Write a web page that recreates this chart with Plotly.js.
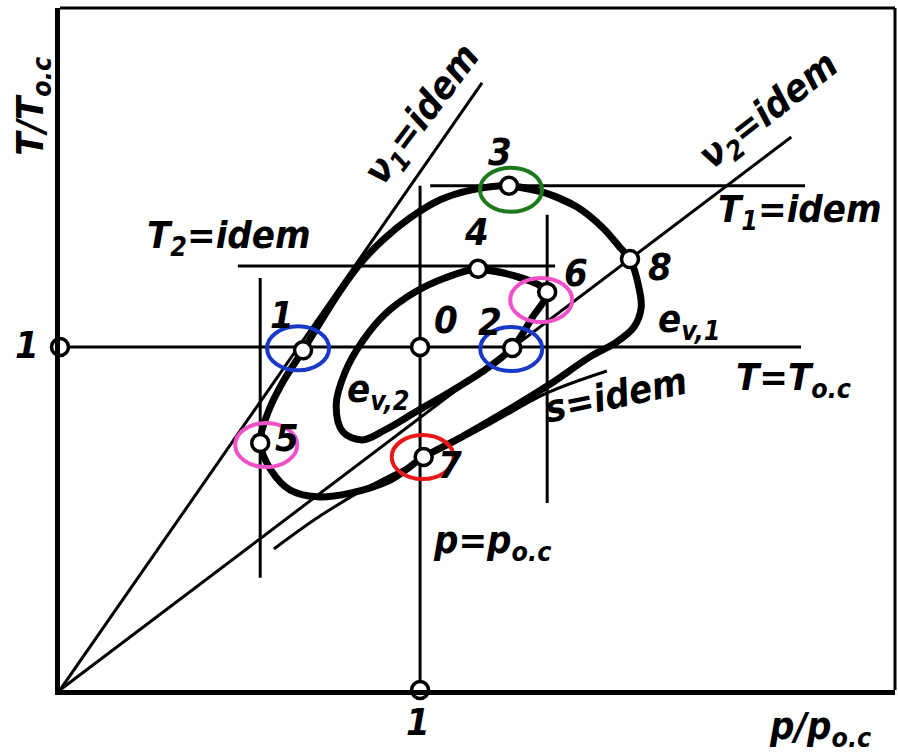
<!DOCTYPE html>
<html>
<head>
<meta charset="utf-8">
<script src="https://cdn.plot.ly/plotly-3.0.1.min.js"></script>
<style>
  html, body { margin: 0; padding: 0; background: #fff; }
  #chart { width: 898px; height: 752px; }
</style>
</head>
<body>
<div id="chart"></div>
<script>
// Axes: reduced pressure p/p_o.c (x) and reduced temperature T/T_o.c (y)
const xRange = [0, 2.319];
const yRange = [0, 1.988];

// Outer cycle e_v,1 (clockwise, starting at state 3)
const outerP = [1.247, 1.347, 1.436, 1.508, 1.556, 1.583, 1.608, 1.614, 1.594, 1.547, 1.472,
                1.353, 1.222, 1.111, 1.01, 0.917, 0.806, 0.714, 0.639, 0.586, 0.556, 0.578,
                0.619, 0.675, 0.722, 0.778, 0.833, 0.897, 0.972, 1.056, 1.144];
const outerT = [1.47, 1.449, 1.408, 1.347, 1.289, 1.256, 1.172, 1.114, 1.058, 1.015, 0.971,
                0.886, 0.802, 0.735, 0.679, 0.612, 0.574, 0.563, 0.583, 0.641, 0.72, 0.81,
                0.898, 0.99, 1.07, 1.163, 1.242, 1.312, 1.376, 1.429, 1.458];

// Inner cycle e_v,2 (clockwise, starting at state 4)
const innerP = [1.161, 1.242, 1.311, 1.353, 1.311, 1.256, 1.172, 1.083, 0.992, 0.903, 0.839,
                0.786, 0.767, 0.792, 0.839, 0.903, 0.986, 1.069];
const innerT = [1.228, 1.213, 1.19, 1.16, 1.085, 0.997, 0.927, 0.869, 0.813, 0.758, 0.729,
                0.752, 0.831, 0.927, 1.015, 1.096, 1.16, 1.201];

// Isentrope s = idem
const isentropeP = [0.594, 0.722, 0.861, 1.019, 1.194, 1.353, 1.519];
const isentropeT = [0.411, 0.507, 0.595, 0.679, 0.775, 0.866, 0.930];

// Straight reference lines: [p0, p1], [T0, T1]
const lineTref  = { p: [0, 2.058],     T: [1, 1] };        // T = T_o.c
const linePref  = { p: [1, 1],         T: [0, 1.47] };     // p = p_o.c
const lineT1    = { p: [1.028, 2.069], T: [1.47, 1.47] };  // T1 = idem
const lineT2    = { p: [0.494, 1.375], T: [1.236, 1.236] };// T2 = idem
const lineP5    = { p: [0.556, 0.556], T: [0.327, 1.201] };// isobar through 5
const lineP6    = { p: [1.353, 1.353], T: [0.545, 1.385] };// isobar through 6
const lineV1    = { p: [0, 1.172],     T: [0, 1.770] };    // v1 = idem
const lineV2    = { p: [0, 2.031],     T: [0, 1.612] };    // v2 = idem

// State points 0..8
const stateNames = ['0', '1', '2', '3', '4', '5', '6', '7', '8'];
const stateP = [1.0, 0.675, 1.256, 1.247, 1.161, 0.556, 1.353, 1.01, 1.583];
const stateT = [1.0, 0.99, 0.997, 1.47, 1.228, 0.72, 1.16, 0.679, 1.256];
// where each state number is written
const stateLabelP = [1.072, 0.617, 1.194, 1.222, 1.158, 0.631, 1.433, 1.083, 1.667];
const stateLabelT = [1.079, 1.093, 1.073, 1.569, 1.335, 0.735, 1.216, 0.656, 1.233];

// Unit marks on the axes
const unitP = [0, 1];
const unitT = [1, 0];

// Highlighted states, ring colours and ring offsets (px right, px down)
const ringStates = ['3', '1', '2', '6', '5', '7'];
const ringColors = ['#1c7a1c', '#1838c8', '#1838c8', '#f050c8', '#f050c8', '#e81818'];
const ringShiftX = [2, -5, -1, -6, 6, -1];
const ringShiftY = [4, -2, 1, 8, 2, 0];

const FONT = "'DejaVu Sans Condensed', 'Liberation Sans Narrow', 'DejaVu Sans', sans-serif";

function closed(a) { return a.concat(a.slice(0, 3)); }

function straight(l, w) {
  return { x: l.p, y: l.T, mode: 'lines', line: { color: '#000', width: w },
           hoverinfo: 'skip', showlegend: false, cliponaxis: false };
}

const traces = [
  straight(lineV1, 3), straight(lineV2, 3),
  straight(lineTref, 3), straight(linePref, 3),
  straight(lineT1, 3), straight(lineT2, 3),
  straight(lineP5, 3), straight(lineP6, 3),
  { x: isentropeP, y: isentropeT, mode: 'lines',
    line: { color: '#000', width: 3, shape: 'spline', smoothing: 1 },
    hoverinfo: 'skip', showlegend: false },
  { x: closed(outerP), y: closed(outerT), mode: 'lines',
    line: { color: '#000', width: 7, shape: 'spline', smoothing: 1 },
    hoverinfo: 'skip', showlegend: false },
  { x: closed(innerP), y: closed(innerT), mode: 'lines',
    line: { color: '#000', width: 7, shape: 'spline', smoothing: 1 },
    hoverinfo: 'skip', showlegend: false },
  { x: stateP.concat(unitP), y: stateT.concat(unitT), mode: 'markers',
    marker: { size: 17, color: '#fff', line: { color: '#000', width: 3.5 } },
    hoverinfo: 'skip', showlegend: false, cliponaxis: false }
];

// labels are placed in paper units so that those beside the axes are kept
function label(text, p, T, size, angle) {
  return { x: p / xRange[1], y: T / yRange[1], xref: 'paper', yref: 'paper',
           text: text, showarrow: false, xanchor: 'center', yanchor: 'middle',
           textangle: angle || 0,
           font: { family: FONT, size: size, color: '#000', weight: 'bold', style: 'italic' } };
}

const annotations = stateNames.map((s, i) => label(s, stateLabelP[i], stateLabelT[i], 38));
annotations.push(
  label('1', -0.092, 1.006, 38),
  label('1', 0.994, -0.093, 38),
  label('T/T<sub>o.c</sub>', -0.075, 1.703, 38, -90),
  label('p/p<sub>o.c</sub>', 2.111, -0.111, 38),
  label('p=p<sub>o.c</sub>', 1.2, 0.429, 38),
  label('ν<sub>1</sub>=idem', 1.008, 1.676, 38, -53),
  label('ν<sub>2</sub>=idem', 1.972, 1.685, 38, -38),
  label('T<sub>1</sub>=idem', 2.056, 1.394, 38),
  label('T<sub>2</sub>=idem', 0.469, 1.318, 38),
  label('T=T<sub>o.c</sub>', 2.036, 0.904, 38),
  label('s=idem', 1.544, 0.860, 38, -12),
  label('e<sub>v,1</sub>', 1.747, 1.073, 38),
  label('e<sub>v,2</sub>', 0.883, 0.869, 38)
);

const shapes = ringStates.map((s, k) => {
  const i = stateNames.indexOf(s);
  const rx = 31, ry = 22;
  return { type: 'circle', xref: 'x', yref: 'y', layer: 'above',
           xsizemode: 'pixel', ysizemode: 'pixel',
           xanchor: stateP[i], yanchor: stateT[i],
           x0: -rx + ringShiftX[k], x1: rx + ringShiftX[k],
           y0: -ry - ringShiftY[k], y1: ry - ringShiftY[k],
           line: { color: ringColors[k], width: 4 } };
});
// top and right edges of the frame
shapes.push(
  { type: 'line', xref: 'paper', yref: 'paper', x0: 0, x1: 1, y0: 1, y1: 1,
    line: { color: '#000', width: 3 } },
  { type: 'line', xref: 'paper', yref: 'paper', x0: 1, x1: 1, y0: 0, y1: 1,
    line: { color: '#000', width: 3 } }
);

const layout = {
  width: 898, height: 752,
  margin: { l: 60, r: 3, t: 8, b: 62 },
  paper_bgcolor: '#fff', plot_bgcolor: '#fff',
  showlegend: false,
  xaxis: { range: xRange, showgrid: false, zeroline: false, showticklabels: false,
           ticks: '', showline: true, linecolor: '#000', linewidth: 5, fixedrange: true },
  yaxis: { range: yRange, showgrid: false, zeroline: false, showticklabels: false,
           ticks: '', showline: true, linecolor: '#000', linewidth: 5, fixedrange: true },
  shapes: shapes,
  annotations: annotations
};

Plotly.newPlot('chart', traces, layout, { displayModeBar: false, staticPlot: true });
</script>
</body>
</html>
